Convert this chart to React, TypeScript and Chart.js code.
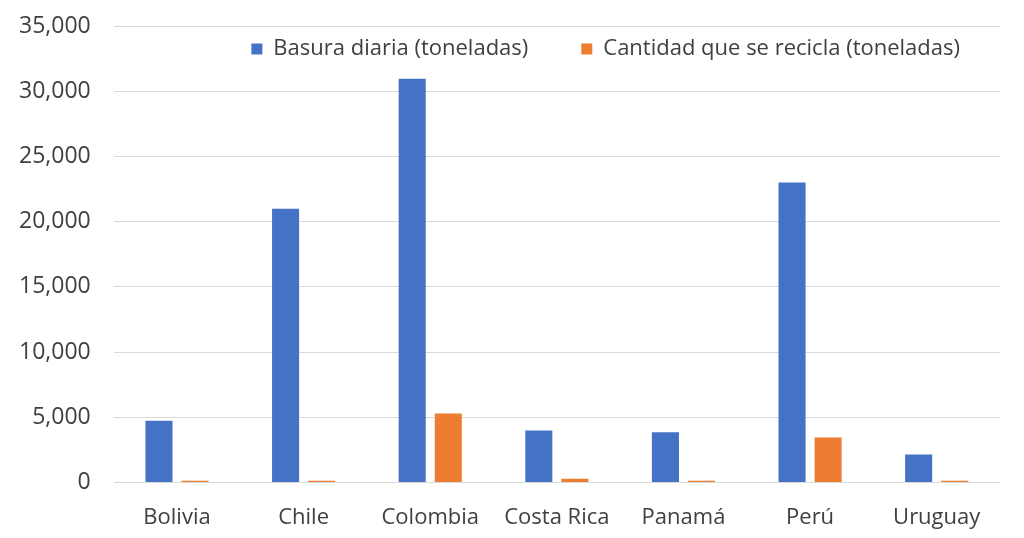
import { useEffect, useRef } from 'react';
import { Chart, registerables } from 'chart.js';
import type { Plugin } from 'chart.js';

Chart.register(...registerables);

const countries = ['Bolivia', 'Chile', 'Colombia', 'Costa Rica', 'Panamá', 'Perú', 'Uruguay'];
const basuraDiaria = [4750, 21000, 30950, 4000, 3850, 23000, 2150];
const cantidadRecicla = [150, 150, 5300, 300, 150, 3450, 150];

const FONT = { family: '"Open Sans", sans-serif', size: 22 };
const YFONT = { family: '"Open Sans", sans-serif', size: 23 };
const TEXT = '#404040';
const GRID = '#d9d9d9';
const LEGEND_GAP = 53;

// legend sits inside the plot (between the top two gridlines), so it takes no layout room
const legendInside: Plugin<'bar'> = {
  id: 'legendInside',
  beforeLayout(chart) {
    const legend: any = (chart as any).legend;
    if (!legend || legend._inside) return;
    const fit = legend.fit.bind(legend);
    legend.fit = () => { fit(); legend.height = 0; };
    legend._inside = true;
  },
  beforeDraw(chart) {
    const legend: any = (chart as any).legend;
    if (!legend) return;
    const area = chart.chartArea;
    legend.left = 0;
    legend.top = area.top + 23 - LEGEND_GAP - 11;
    legend.right = area.right - 40 + LEGEND_GAP;
    legend.bottom = legend.top + 120;
    legend.width = legend.right - legend.left;
    legend.height = legend.bottom - legend.top;
  },
};

export default function App() {
  const canvasRef = useRef<HTMLCanvasElement>(null);
  const chartRef = useRef<Chart | null>(null);

  useEffect(() => {
    document.body.style.margin = '0';
    if (!canvasRef.current) return;
    Chart.getChart(canvasRef.current)?.destroy();
    chartRef.current?.destroy();

    chartRef.current = new Chart(canvasRef.current, {
      type: 'bar',
      data: {
        labels: countries,
        datasets: [
          {
            label: 'Basura diaria (toneladas)',
            data: basuraDiaria,
            backgroundColor: '#4472c4',
            categoryPercentage: 0.57,
            barPercentage: 0.75,
          },
          {
            label: 'Cantidad que se recicla (toneladas)',
            data: cantidadRecicla,
            backgroundColor: '#ed7d31',
            categoryPercentage: 0.57,
            barPercentage: 0.75,
          },
        ],
      },
      options: {
        responsive: true,
        maintainAspectRatio: false,
        animation: false,
        layout: { padding: { left: -4, right: 24, top: 26, bottom: -7 } },
        plugins: {
          tooltip: { enabled: false },
          legend: {
            position: 'top',
            align: 'end',
            labels: {
              font: FONT,
              color: TEXT,
              boxWidth: 11,
              boxHeight: 11,
              padding: LEGEND_GAP,
            },
          },
        },
        scales: {
          x: {
            grid: { display: false },
            border: { display: false },
            ticks: { font: FONT, color: TEXT, padding: 14 },
          },
          y: {
            min: 0,
            max: 35000,
            grid: { color: GRID, drawTicks: false },
            border: { display: false },
            afterFit: (scale: any) => { scale.paddingTop = 0; },
            ticks: {
              stepSize: 5000,
              font: YFONT,
              color: TEXT,
              padding: 23,
              callback: (v) => Number(v).toLocaleString('en-US'),
            },
          },
        },
      },
      plugins: [legendInside],
    });

    return () => { chartRef.current?.destroy(); chartRef.current = null; };
  }, []);

  return (
    <div style={{ width: 1024, height: 538, background: '#fff' }}>
      <canvas ref={canvasRef} />
    </div>
  );
}
